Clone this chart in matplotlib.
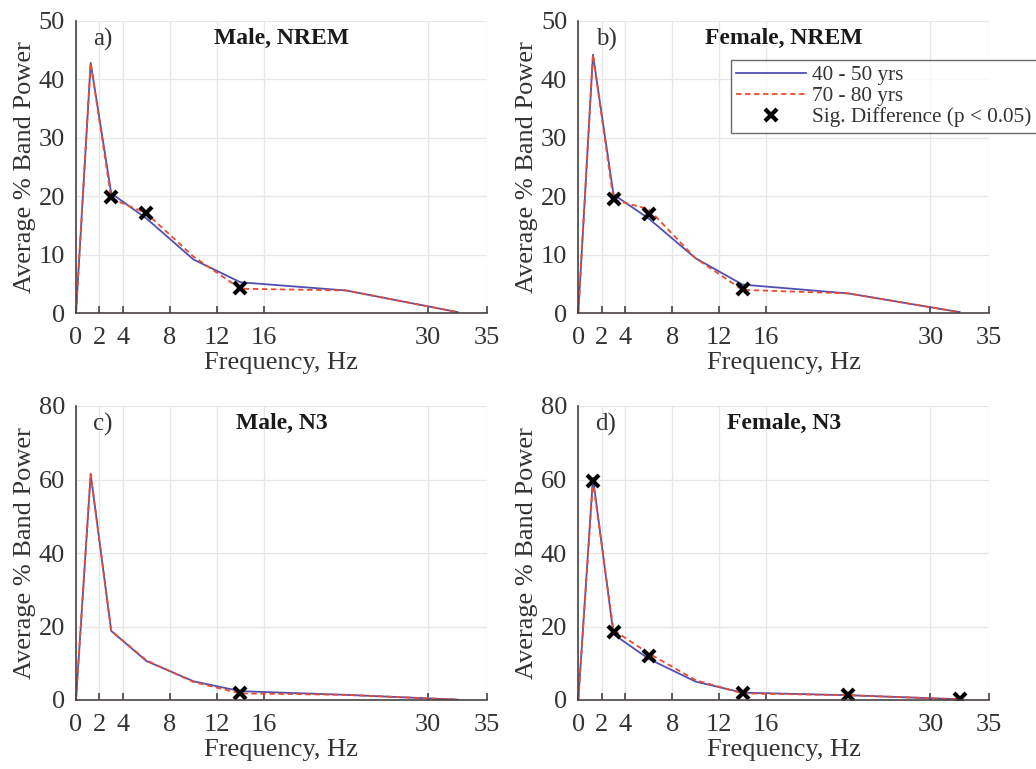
import matplotlib
matplotlib.use("Agg")
import matplotlib.pyplot as plt

plt.rcParams['font.family'] = ['Liberation Serif', 'DejaVu Serif']

# band centre frequencies (Hz)
freq = [0, 1.25, 3, 6, 10, 14, 23, 32.5]

# average % band power, panels a-d
male_nrem_40 = [0, 42.8, 20.5, 16.2, 9.2, 5.3, 3.9, 0.2]
male_nrem_70 = [0, 42.8, 19.6, 17.1, 9.7, 4.2, 3.9, 0.2]
fem_nrem_40 = [0, 44.2, 20.3, 16.2, 9.4, 4.9, 3.4, 0.2]
fem_nrem_70 = [0, 44.2, 19.4, 17.8, 9.4, 4.0, 3.4, 0.2]
male_n3_40 = [0, 61.5, 18.8, 10.6, 5.1, 2.4, 1.4, 0.1]
male_n3_70 = [0, 61.5, 18.8, 10.8, 4.9, 1.8, 1.4, 0.1]
fem_n3_40 = [0, 60.5, 17.9, 11.2, 5.0, 2.0, 1.3, 0.2]
fem_n3_70 = [0, 59.5, 19.0, 12.7, 5.4, 1.8, 1.3, 0.2]

# significant differences: frequency and marker height
male_nrem_sig_f = [3, 6, 14]
male_nrem_sig_y = [19.9, 17.2, 4.3]
fem_nrem_sig_f = [3, 6, 14]
fem_nrem_sig_y = [19.6, 17.0, 4.1]
male_n3_sig_f = [14]
male_n3_sig_y = [1.8]
fem_n3_sig_f = [1.25, 3, 6, 14, 23, 32.5]
fem_n3_sig_y = [59.6, 18.6, 12.0, 1.9, 1.3, 0.2]

xticks = [0, 2, 4, 8, 12, 16, 30, 35]

panels = [
    ("a)", "Male, NREM", male_nrem_40, male_nrem_70, male_nrem_sig_f, male_nrem_sig_y, 50, [0, 10, 20, 30, 40, 50]),
    ("b)", "Female, NREM", fem_nrem_40, fem_nrem_70, fem_nrem_sig_f, fem_nrem_sig_y, 50, [0, 10, 20, 30, 40, 50]),
    ("c)", "Male, N3", male_n3_40, male_n3_70, male_n3_sig_f, male_n3_sig_y, 80, [0, 20, 40, 60, 80]),
    ("d)", "Female, N3", fem_n3_40, fem_n3_70, fem_n3_sig_f, fem_n3_sig_y, 80, [0, 20, 40, 60, 80]),
]

W, H = 1036, 769
boxes = [
    (76, 20.7, 487, 313.3),
    (578.3, 20.7, 989, 313.3),
    (76, 406, 487, 700),
    (578.3, 406, 989, 700),
]

axcol = '#4a4242'
txtcol = '#333333'

fig = plt.figure(figsize=(W / 100, H / 100), dpi=100)

for i, (lab, title, y40, y70, sf, sy, ymax, yt) in enumerate(panels):
    l, t, r, b = boxes[i]
    ax = fig.add_axes([l / W, 1 - b / H, (r - l) / W, (b - t) / H])
    l1, = ax.plot(freq, y40, color='#5050b4', lw=1.3, label='40 - 50 yrs')
    l2, = ax.plot(freq, y70, color='#f04a2c', lw=1.3, ls=(0, (3, 2)), label='70 - 80 yrs')
    l3, = ax.plot(sf, sy, 'x', color='black', ms=9, mew=3, ls='none', label='Sig. Difference (p < 0.05)')
    ax.set_xlim(0, 35)
    ax.set_ylim(0, ymax)
    ax.set_xticks(xticks)
    ax.set_yticks(yt)
    ax.grid(True, color='#e6e6e6', lw=0.9)
    ax.set_axisbelow(True)
    ax.spines['top'].set_visible(False)
    ax.spines['right'].set_visible(False)
    ax.spines['left'].set_color(axcol)
    ax.spines['bottom'].set_color(axcol)
    ax.spines['left'].set_linewidth(1.2)
    ax.spines['bottom'].set_linewidth(1.2)
    ax.tick_params(direction='in', length=5, width=1.2, color=axcol, labelcolor=txtcol,
                   labelsize=19, pad=10)
    ax.tick_params(axis='y', length=0, pad=8)
    ax.set_xlabel('Frequency, Hz', fontsize=19, color=txtcol, labelpad=2)
    ax.set_ylabel('Average % Band Power', fontsize=19, color=txtcol, labelpad=2)
    ax.text(0.042, 0.975, lab, transform=ax.transAxes, fontsize=18, color=txtcol, va='top', ha='left')
    ax.text(0.5, 0.975, title, transform=ax.transAxes, fontsize=17, fontweight='bold',
            color='#1a1a1a', va='top', ha='center')
    if i == 1:
        leg = ax.legend(handles=[l1, l2, l3], loc='upper left', bbox_to_anchor=(0.371, 0.865),
                        fontsize=15.3, frameon=True, fancybox=False, edgecolor=axcol,
                        borderpad=0.25, handlelength=3.3, handletextpad=0.3,
                        labelspacing=0.05, borderaxespad=0)
        leg.get_frame().set_linewidth(1.0)
        for tx in leg.get_texts():
            tx.set_color(txtcol)

fig.savefig('out.png', dpi=100)
